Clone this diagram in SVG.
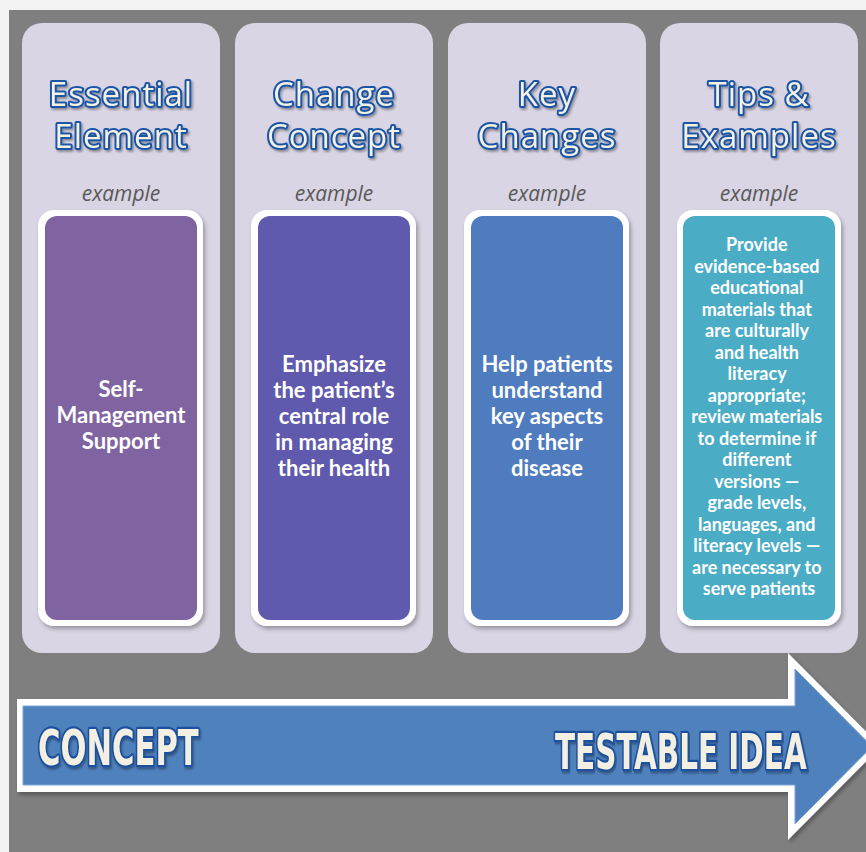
<svg xmlns="http://www.w3.org/2000/svg" width="866" height="852" viewBox="0 0 866 852">
<defs>
<style>
.card{fill:#d9d5e4}
.frame{fill:#ffffff}
.title{font-family:"Open Sans","DejaVu Sans",sans-serif;font-size:33px;fill:#f4f1e3;stroke:#1a55a6;stroke-width:4px;stroke-linejoin:round;paint-order:stroke;text-anchor:middle;letter-spacing:1px}
.ex{font-family:"Open Sans","DejaVu Sans",sans-serif;font-style:italic;font-size:21px;fill:#595959;text-anchor:middle}
.body{font-family:Lato,"Open Sans",sans-serif;font-weight:bold;font-size:22px;fill:#ffffff;text-anchor:middle}
.small{font-family:Lato,"Open Sans",sans-serif;font-weight:bold;font-size:18px;fill:#ffffff;text-anchor:middle}
.big{font-family:"DejaVu Sans Condensed","DejaVu Sans",sans-serif;font-weight:bold;font-size:50px;fill:#f3f0e3;stroke:#1a4f9c;stroke-width:4.5px;stroke-linejoin:round;paint-order:stroke}
</style>
<filter id="ts" x="-10%" y="-20%" width="130%" height="150%">
<feDropShadow dx="1.5" dy="2" stdDeviation="1.2" flood-color="#000" flood-opacity="0.35"/>
</filter>
<filter id="bs" x="-10%" y="-10%" width="130%" height="120%">
<feDropShadow dx="2" dy="3" stdDeviation="2" flood-color="#000" flood-opacity="0.3"/>
</filter>
</defs>
<rect x="0" y="0" width="866" height="852" fill="#f3f3f3"/>
<rect x="9" y="10" width="857" height="842" fill="#7f7f7f"/>

<g id="col1">
<rect class="card" x="22" y="23" width="198" height="630" rx="20"/>
<text class="title" filter="url(#ts)"><tspan x="121" y="106">Essential</tspan><tspan x="121" y="148">Element</tspan></text>
<text class="ex" x="121" y="201">example</text>
<rect class="frame" filter="url(#bs)" x="38" y="210" width="165" height="416" rx="16"/>
<rect x="45" y="216" width="152" height="404" rx="12" fill="#8064a2"/>
<text class="body"><tspan x="121" y="397">Self-</tspan><tspan x="121" y="423">Management</tspan><tspan x="121" y="449">Support</tspan></text>
</g>

<g id="col2">
<rect class="card" x="235" y="23" width="198" height="630" rx="20"/>
<text class="title" filter="url(#ts)"><tspan x="334" y="106">Change</tspan><tspan x="334" y="148">Concept</tspan></text>
<text class="ex" x="334" y="201">example</text>
<rect class="frame" filter="url(#bs)" x="251" y="210" width="165" height="416" rx="16"/>
<rect x="258" y="216" width="152" height="404" rx="12" fill="#5f5aad"/>
<text class="body"><tspan x="334" y="372">Emphasize</tspan><tspan x="334" y="398">the patient’s</tspan><tspan x="334" y="424">central role</tspan><tspan x="334" y="450">in managing</tspan><tspan x="334" y="476">their health</tspan></text>
</g>

<g id="col3">
<rect class="card" x="448" y="23" width="198" height="630" rx="20"/>
<text class="title" filter="url(#ts)"><tspan x="547" y="106">Key</tspan><tspan x="547" y="148">Changes</tspan></text>
<text class="ex" x="547" y="201">example</text>
<rect class="frame" filter="url(#bs)" x="464" y="210" width="165" height="416" rx="16"/>
<rect x="471" y="216" width="152" height="404" rx="12" fill="#4f7bbf"/>
<text class="body"><tspan x="547" y="372">Help patients</tspan><tspan x="547" y="398">understand</tspan><tspan x="547" y="424">key aspects</tspan><tspan x="547" y="450">of their</tspan><tspan x="547" y="476">disease</tspan></text>
</g>

<g id="col4">
<rect class="card" x="660" y="23" width="198" height="630" rx="20"/>
<text class="title" filter="url(#ts)"><tspan x="759" y="106">Tips &amp;</tspan><tspan x="759" y="148">Examples</tspan></text>
<text class="ex" x="759" y="201">example</text>
<rect class="frame" filter="url(#bs)" x="677" y="210" width="164" height="416" rx="16"/>
<rect x="683" y="216" width="152" height="404" rx="12" fill="#4bacc6"/>
<text class="small">
<tspan x="759" y="251">Provide</tspan>
<tspan x="759" y="272.5">evidence-based</tspan>
<tspan x="759" y="294">educational</tspan>
<tspan x="759" y="315.5">materials that</tspan>
<tspan x="759" y="337">are culturally</tspan>
<tspan x="759" y="358.5">and health</tspan>
<tspan x="759" y="380">literacy</tspan>
<tspan x="759" y="401.5">appropriate;</tspan>
<tspan x="759" y="423">review materials</tspan>
<tspan x="759" y="444.5">to determine  if</tspan>
<tspan x="759" y="466">different</tspan>
<tspan x="759" y="487.5">versions —</tspan>
<tspan x="759" y="509">grade levels,</tspan>
<tspan x="759" y="530.5">languages, and</tspan>
<tspan x="759" y="552">literacy levels —</tspan>
<tspan x="759" y="573.5">are necessary to</tspan>
<tspan x="759" y="595">serve patients</tspan>
</text>
</g>

<g id="arrow">
<polygon filter="url(#bs)" points="17,699 788,699 788,653 881,746.5 788,840 788,792 17,792" fill="#ffffff"/>
<polygon points="23,706 795,706 795,669 872,746.5 795,824 795,785 23,785" fill="#4f81bd" stroke="#7aa3d6" stroke-width="1"/>
<text class="big" filter="url(#ts)" transform="translate(38,765) scale(0.68,1)" x="0" y="0">CONCEPT</text>
<text class="big" filter="url(#ts)" transform="translate(555,769) scale(0.655,1)" x="0" y="0">TESTABLE IDEA</text>
</g>
</svg>
